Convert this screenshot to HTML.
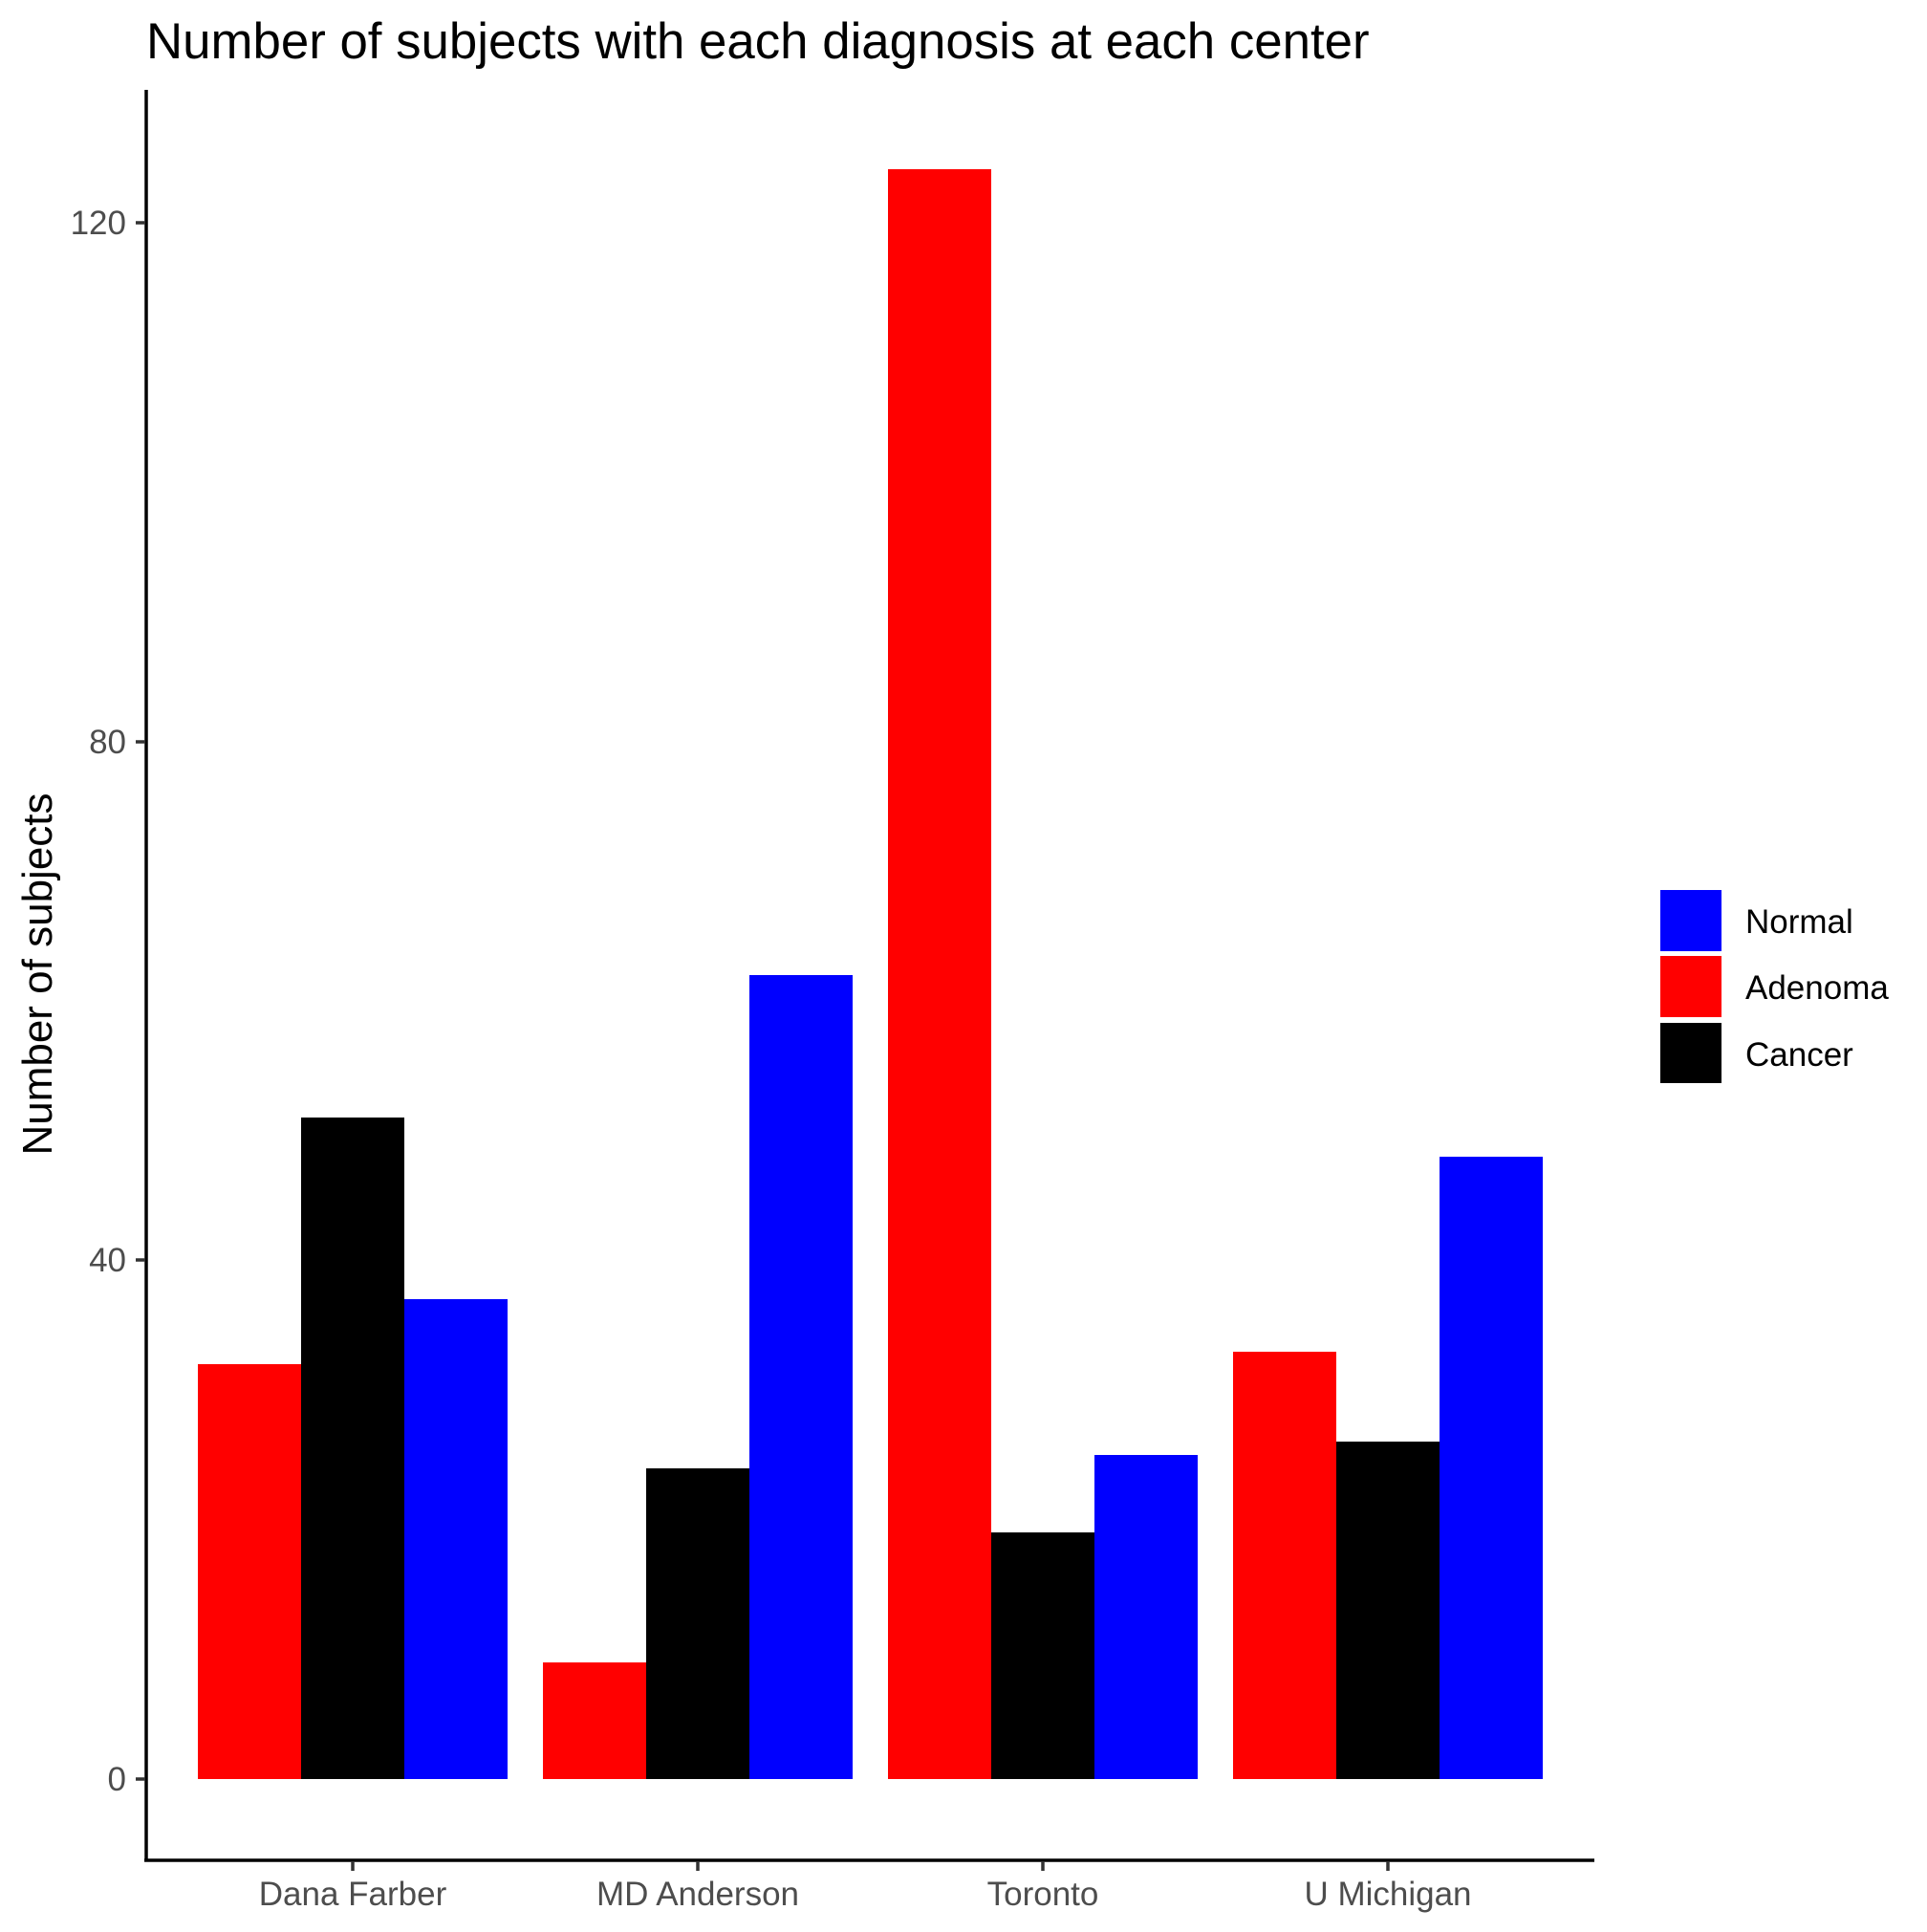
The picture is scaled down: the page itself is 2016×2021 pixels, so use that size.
<!DOCTYPE html>
<html><head><style>body{margin:0;background:#fff}</style></head><body>
<svg width="2016" height="2016" xmlns="http://www.w3.org/2000/svg" font-family="Liberation Sans, Arial, sans-serif">
<rect width="2016" height="2016" fill="#fff"/>
<text x="153" y="61" font-size="52.8" fill="#000">Number of subjects with each diagnosis at each center</text>
<g id="bars">
<rect x="207" y="1427" width="108" height="434" fill="#ff0000"/>
<rect x="315" y="1169" width="108" height="692" fill="#000"/>
<rect x="423" y="1359" width="108" height="502" fill="#0000ff"/>
<rect x="568" y="1739" width="108" height="122" fill="#ff0000"/>
<rect x="676" y="1536" width="108" height="325" fill="#000"/>
<rect x="784" y="1020" width="108" height="841" fill="#0000ff"/>
<rect x="929" y="177" width="108" height="1684" fill="#ff0000"/>
<rect x="1037" y="1603" width="108" height="258" fill="#000"/>
<rect x="1145" y="1522" width="108" height="339" fill="#0000ff"/>
<rect x="1290" y="1414" width="108" height="447" fill="#ff0000"/>
<rect x="1398" y="1508" width="108" height="353" fill="#000"/>
<rect x="1506" y="1210" width="108" height="651" fill="#0000ff"/>
</g>
<g stroke="#000" stroke-width="3.5">
<line x1="153" y1="94" x2="153" y2="1947"/>
<line x1="151" y1="1946" x2="1668" y2="1946"/>
</g>
<g stroke="#333" stroke-width="3.5">
<line x1="142" y1="1861" x2="152" y2="1861"/>
<line x1="142" y1="1318" x2="152" y2="1318"/>
<line x1="142" y1="776" x2="152" y2="776"/>
<line x1="142" y1="233" x2="152" y2="233"/>
<line x1="369" y1="1947" x2="369" y2="1957"/>
<line x1="730" y1="1947" x2="730" y2="1957"/>
<line x1="1091" y1="1947" x2="1091" y2="1957"/>
<line x1="1452" y1="1947" x2="1452" y2="1957"/>
</g>
<g font-size="35" fill="#4d4d4d" text-anchor="end">
<text x="132" y="1873">0</text>
<text x="132" y="1330">40</text>
<text x="132" y="788">80</text>
<text x="132" y="245">120</text>
</g>
<g font-size="35" fill="#4d4d4d" text-anchor="middle">
<text x="369" y="1993">Dana Farber</text>
<text x="730" y="1993">MD Anderson</text>
<text x="1091" y="1993">Toronto</text>
<text x="1452" y="1993">U Michigan</text>
</g>
<text transform="translate(54,1019) rotate(-90)" font-size="44" text-anchor="middle" fill="#000">Number of subjects</text>
<rect x="1737" y="931" width="64" height="64" fill="#0000ff"/>
<rect x="1737" y="1000" width="64" height="64" fill="#ff0000"/>
<rect x="1737" y="1070" width="64" height="63" fill="#000"/>
<g font-size="35" fill="#000">
<text x="1826" y="976">Normal</text>
<text x="1826" y="1045">Adenoma</text>
<text x="1826" y="1115">Cancer</text>
</g>
</svg>
</body></html>
